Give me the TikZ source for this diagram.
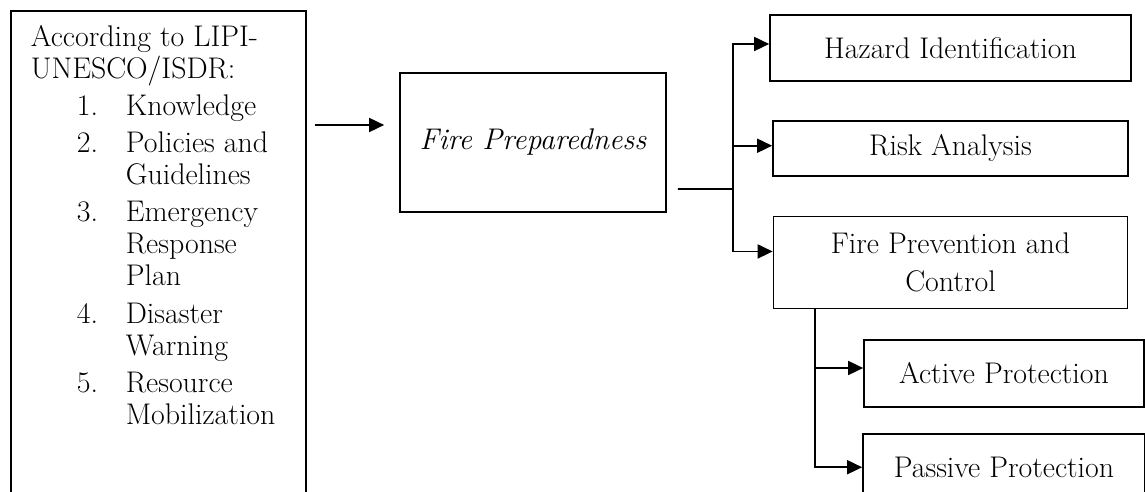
\documentclass[tikz,border=0pt]{standalone}
\usepackage{xcolor}
\usepackage{tikz}
\usetikzlibrary{arrows.meta,positioning,calc}
\definecolor{ink}{HTML}{000000}
\tikzset{
  stagebox/.style={
    rectangle, draw=ink, line width=1pt, inner sep=0pt,
    minimum width=#1, align=center,
    font=\fontsize{17}{18.2}\selectfont
  },
  stagebox/.default=7.1cm,
  listbox/.style={
    rectangle, draw=ink, line width=1pt,
    inner xsep=0.4cm, inner ysep=0.3cm,
    font=\fontsize{17}{18.2}\selectfont
  },
  flowline/.style={line width=1pt, draw=ink},
  flowarrow/.style={
    -{Triangle[length=0.3cm,width=0.28cm]}, line width=1pt, draw=ink
  },
}

\begin{document}
\begin{tikzpicture}[x=0.02cm, y=-0.02cm, node distance=0.76cm]
\useasboundingbox (0,0) rectangle (1145,492);
\clip (0,0) rectangle (1145,492);
% left list
\node[listbox, anchor=north west] (lipi) at (10,10) {%
  \parbox[t][9.6cm][t]{5.1cm}{\raggedright
  According~to~LIPI-\\
  UNESCO/ISDR:\\[0.1cm]
  \begin{tabular}[t]{@{\hspace{0.92cm}}p{0.98cm}@{}l@{}}
  1. & Knowledge\\[0.1cm]
  2. & Policies and\\
     & Guidelines\\[0.1cm]
  3. & Emergency\\
     & Response\\
     & Plan\\[0.12cm]
  4. & Disaster\\
     & Warning\\[0.1cm]
  5. & Resource\\
     & Mobilization
  \end{tabular}}};
% main box
\node[stagebox=5.32cm, minimum height=2.78cm] (prep) at (533,142.5)
  {\itshape Fire Preparedness};
% branches
\node[stagebox=7.22cm, minimum height=1.32cm] (hazard) at (950.5,48)
  {Hazard Identification};
\node[stagebox=7.1cm, minimum height=1.1cm, below=of hazard] (risk)
  {Risk Analysis};
\node[stagebox=7.08cm, minimum height=1.84cm, below=0.78cm of risk] (prevent)
  {Fire Prevention and\\[0.12cm] Control};
\node[stagebox=5.6cm, minimum height=1.34cm] (active) at (1004,373.5)
  {Active Protection};
\node[stagebox=5.64cm, minimum height=1.34cm, below=0.5cm of active] (passive)
  {Passive Protection};

\coordinate (inp) at ([yshift=0.35cm]prep.west);
\coordinate (fork) at (733,189);
\coordinate (sub) at ([xshift=0.84cm]prevent.south west);
\coordinate (actin) at ([yshift=0.11cm]active.west);

\draw[flowarrow] ([xshift=0.16cm]lipi.east |- inp) -- ([xshift=-0.3cm]inp);
\draw[flowline] ([xshift=0.22cm,yshift=-0.93cm]prep.east) -- (fork);
\draw[flowarrow] (fork) |- ([yshift=0.08cm]hazard.west);
\draw[flowarrow] (fork) |- ([yshift=0.05cm]risk.west);
\draw[flowarrow] (fork) |- ([yshift=0.22cm]prevent.west);
\draw[flowarrow] (sub) |- (passive.west);
\draw[flowarrow] (sub |- actin) -- (actin);
\end{tikzpicture}
\end{document}
